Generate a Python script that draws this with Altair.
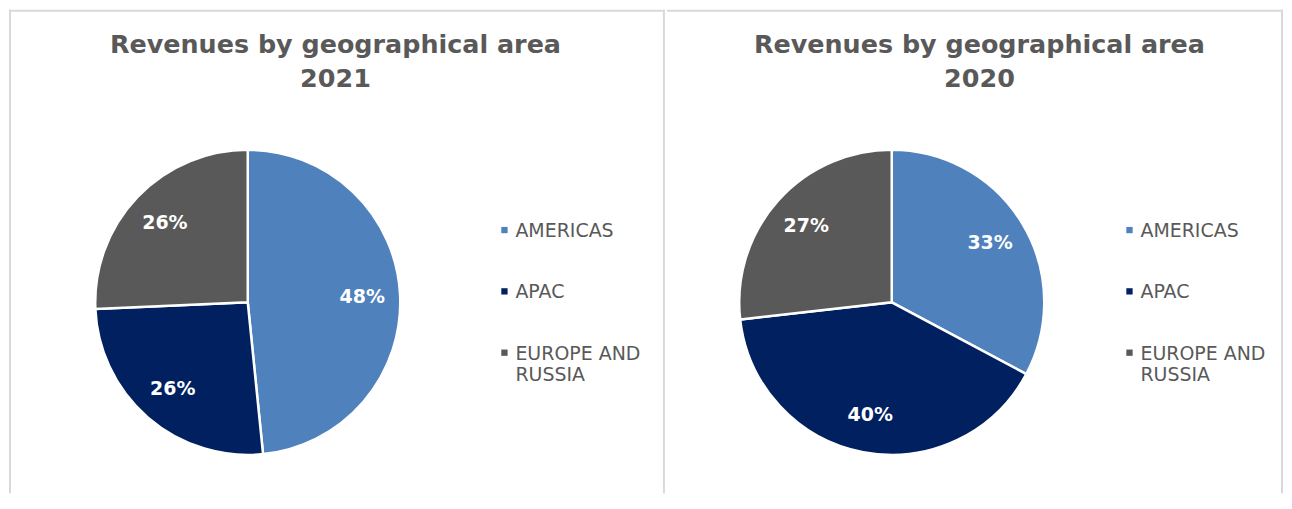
import altair as alt
import pandas as pd

# ---- data ----
categories = ["AMERICAS", "APAC", "EUROPE AND RUSSIA"]
legend_labels = ["AMERICAS", "APAC", "EUROPE AND\nRUSSIA"]
values_2021 = [48.4, 25.9, 25.7]
values_2020 = [32.8, 40.4, 26.8]
title_text = "Revenues by geographical area"
colors = ["#4F81BD", "#002060", "#595959"]

GREY = "#595959"
BORDER = "#D9D9D9"
FONT = "DejaVu Sans"
H = 485


def panel(values, year, width, cx, cy, legend_x, title_x, left_border):
    df = pd.DataFrame({
        "Region": categories,
        "Share": values,
        "ord": list(range(len(categories))),
        "Label": [f"{round(v)}%" for v in values],
    })
    leg = pd.DataFrame({"Region": categories, "LegendLabel": legend_labels})
    one = pd.DataFrame({"t": [title_text + "\n" + year]})

    color = alt.Color("Region:N", scale=alt.Scale(domain=categories, range=colors), legend=None)
    ypos = alt.Y("Region:N", scale=alt.Scale(domain=categories, range=[221, 344], padding=0), axis=None)

    arcs = alt.Chart(df).mark_arc(outerRadius=153, stroke="white", strokeWidth=2.5).encode(
        theta=alt.Theta("Share:Q", stack=True),
        color=color,
        order=alt.Order("ord:Q"),
        x=alt.value(cx), y=alt.value(cy),
    )
    labels = alt.Chart(df).mark_text(
        radius=115, font=FONT, fontSize=19, fontWeight="bold", color="white"
    ).encode(
        theta=alt.Theta("Share:Q", stack=True),
        order=alt.Order("ord:Q"),
        text="Label:N",
        x=alt.value(cx), y=alt.value(cy),
    )
    leg_sq = alt.Chart(leg).mark_square(size=40, opacity=1).encode(
        x=alt.value(legend_x), y=ypos, color=color
    )
    leg_tx = alt.Chart(leg).mark_text(
        align="left", baseline="top", dy=-8, lineBreak="\n", lineHeight=21,
        font=FONT, fontSize=19, color=GREY
    ).encode(
        x=alt.value(legend_x + 11), y=ypos, text="LegendLabel:N"
    )
    title = alt.Chart(one).mark_text(
        align="center", baseline="alphabetic", lineBreak="\n", lineHeight=34,
        font=FONT, fontSize=25.5, fontWeight="bold", color=GREY
    ).encode(
        x=alt.value(title_x), y=alt.value(43), text="t:N"
    )
    top = alt.Chart(one).mark_rule(color=BORDER, strokeWidth=2).encode(
        x=alt.value(0), x2=alt.value(width), y=alt.value(1)
    )
    right = alt.Chart(one).mark_rule(color=BORDER, strokeWidth=2).encode(
        x=alt.value(width - 1), y=alt.value(0), y2=alt.value(H)
    )
    layers = [top, right]
    if left_border:
        left = alt.Chart(one).mark_rule(color=BORDER, strokeWidth=2).encode(
            x=alt.value(1), y=alt.value(0), y2=alt.value(H)
        )
        layers.append(left)
    layers += [arcs, labels, leg_sq, leg_tx, title]
    return alt.layer(*layers).properties(width=width, height=H)


p1 = panel(values_2021, "2021", 658, 239.5, 293.5, 497, 327.5, True)
p2 = panel(values_2020, "2020", 618, 225.5, 293.5, 464, 313.5, False)

chart = alt.hconcat(p1, p2, spacing=0).properties(padding=0).configure_view(stroke=None)

chart.save("out.html", embed_options={"renderer": "svg", "actions": False})
